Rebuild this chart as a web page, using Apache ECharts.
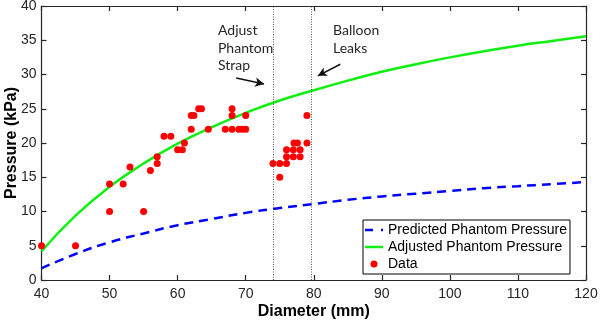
<!DOCTYPE html>
<html>
<head>
<meta charset="utf-8">
<script src="https://cdn.jsdelivr.net/npm/echarts@6/dist/echarts.min.js"></script>
<style>
    html, body { margin: 0; padding: 0; background: #fff; }
    #chart { width: 600px; height: 325px; }
</style>
</head>
<body>
<div id="chart"></div>
<script>
// curves every 5 mm
var curveX = [40, 45, 50, 55, 60, 65, 70, 75, 80, 85, 90, 95, 100, 105, 110, 115, 120];
var predicted = [1.7, 3.8, 5.5, 6.8, 8.0, 8.9, 9.8, 10.5, 11.1, 11.7, 12.2, 12.6, 13.0, 13.4, 13.7, 14.0, 14.3];
var adjusted = [4.2, 9.4, 13.6, 17.0, 19.9, 22.3, 24.4, 26.2, 27.7, 29.1, 30.4, 31.5, 32.5, 33.4, 34.2, 34.9, 35.6];

// measured points
var dataX = [40, 45, 50, 50, 52, 53, 55, 56, 57, 57, 58, 59, 60, 60.7, 61, 62, 62, 62.4, 63.1, 63.5, 64.5,
    67, 68, 68, 68, 69, 69.5, 70, 70, 74, 75, 75, 76, 76, 76, 77, 77, 77.1, 77.6, 78, 78, 79, 79];
var dataY = [5, 5, 14, 10, 14, 16.5, 10, 16, 17, 18, 21, 21, 19, 19, 20, 22, 24, 24, 25, 25, 22,
    22, 22, 24, 25, 22, 22, 22, 24, 17, 17, 15, 17, 18, 19, 18, 19, 20, 20, 19, 18, 24, 20];

var eventX = [74, 79.6];
var xTicks = { min: 40, max: 120, interval: 10 };
var yTicks = { min: 0, max: 40, interval: 5 };

function pairs(xs, ys) {
    var out = [];
    for (var i = 0; i < xs.length; i++) {
        out.push([xs[i], ys[i]]);
    }
    return out;
}

var axisColor = '#262626';
var labelFont = 'Liberation Sans';

function boxAxis(pos, ticks) {
    return {
        type: 'value',
        position: pos,
        min: ticks.min,
        max: ticks.max,
        interval: ticks.interval,
        axisLine: { show: true, onZero: false, lineStyle: { color: axisColor, width: 1.2 } },
        axisTick: { show: true, inside: true, length: 5, lineStyle: { color: axisColor, width: 1.2 } },
        axisLabel: { show: false },
        splitLine: { show: false }
    };
}

var chart = echarts.init(document.getElementById('chart'));
chart.setOption({
    animation: false,
    backgroundColor: '#fff',
    grid: { left: 41.5, right: 14, top: 6, bottom: 45, containLabel: false, outerBoundsMode: 'none' },
    xAxis: [
        {
            type: 'value',
            min: xTicks.min,
            max: xTicks.max,
            interval: xTicks.interval,
            name: 'Diameter (mm)',
            nameLocation: 'middle',
            nameGap: 24,
            nameMoveOverlap: false,
            nameTextStyle: { fontFamily: labelFont, fontSize: 16, fontWeight: 'bold', color: '#000' },
            axisLine: { show: true, onZero: false, lineStyle: { color: axisColor, width: 1.2 } },
            axisTick: { show: true, inside: true, length: 5, lineStyle: { color: axisColor, width: 1.2 } },
            axisLabel: { fontFamily: labelFont, fontSize: 14, color: axisColor, margin: 7 },
            splitLine: { show: false }
        },
        boxAxis('top', xTicks)
    ],
    yAxis: [
        {
            type: 'value',
            min: yTicks.min,
            max: yTicks.max,
            interval: yTicks.interval,
            name: 'Pressure (kPa)',
            nameLocation: 'middle',
            nameGap: 22,
            nameMoveOverlap: false,
            nameTextStyle: { fontFamily: labelFont, fontSize: 16, fontWeight: 'bold', color: '#000' },
            axisLine: { show: true, onZero: false, lineStyle: { color: axisColor, width: 1.2 } },
            axisTick: { show: true, inside: true, length: 5, lineStyle: { color: axisColor, width: 1.2 } },
            axisLabel: { fontFamily: labelFont, fontSize: 14, color: axisColor, margin: 5 },
            splitLine: { show: false }
        },
        boxAxis('right', yTicks)
    ],
    legend: {
        orient: 'vertical',
        left: 363,
        top: 220,
        padding: [3, 3, 3, 2],
        itemGap: 3,
        itemWidth: 18,
        itemHeight: 7,
        backgroundColor: '#fff',
        borderColor: '#000',
        borderWidth: 1,
        borderRadius: 0,
        textStyle: { fontFamily: labelFont, fontSize: 14, color: '#000' },
        data: [
            { name: 'Predicted Phantom Pressure', icon: 'path://M0,0h8v2.5h-8z M16,0h2v2.5h-2z' },
            { name: 'Adjusted Phantom Pressure', icon: 'path://M0,0h18v2.5h-18z' },
            { name: 'Data', icon: 'circle' }
        ]
    },
    graphic: [
        {
            type: 'text', left: 218, top: 22, z: 10,
            style: { text: 'Adjust\nPhantom\nStrap', font: '14px Lato', fill: '#262626', lineHeight: 17.5 }
        },
        {
            type: 'text', left: 333, top: 22, z: 10,
            style: { text: 'Balloon\nLeaks', font: '14px Lato', fill: '#262626', lineHeight: 17.5 }
        }
    ],
    series: [
        {
            name: 'Predicted Phantom Pressure',
            type: 'line',
            data: pairs(curveX, predicted),
            smooth: true,
            showSymbol: false,
            symbol: 'none',
            color: '#0000ff',
            lineStyle: { color: '#0000ff', width: 2.5, type: [9, 6] },
            z: 3
        },
        {
            name: 'Adjusted Phantom Pressure',
            type: 'line',
            data: pairs(curveX, adjusted),
            smooth: true,
            showSymbol: false,
            symbol: 'none',
            color: '#11ee11',
            lineStyle: { color: '#11ee11', width: 2.5 },
            z: 3,
            markLine: {
                silent: true,
                symbol: 'none',
                label: { show: false },
                lineStyle: { color: '#555', width: 1, type: [1, 1.5] },
                data: eventX.map(function (v) { return { xAxis: v }; })
            }
        },
        {
            name: 'Data',
            type: 'scatter',
            data: pairs(dataX, dataY),
            symbol: 'circle',
            symbolSize: 7,
            color: '#ff0000',
            itemStyle: { color: '#ff0000', opacity: 1 },
            z: 4,
            markLine: {
                silent: true,
                symbol: ['none', 'arrow'],
                symbolSize: [7, 9],
                label: { show: false },
                lineStyle: { color: '#111', width: 1.5, type: 'solid' },
                data: [
                    [{ coord: [68.6, 29.5] }, { coord: [72.7, 28.6] }],
                    [{ coord: [83.9, 31.5] }, { coord: [80.6, 29.8] }]
                ]
            }
        }
    ]
});
</script>
</body>
</html>
